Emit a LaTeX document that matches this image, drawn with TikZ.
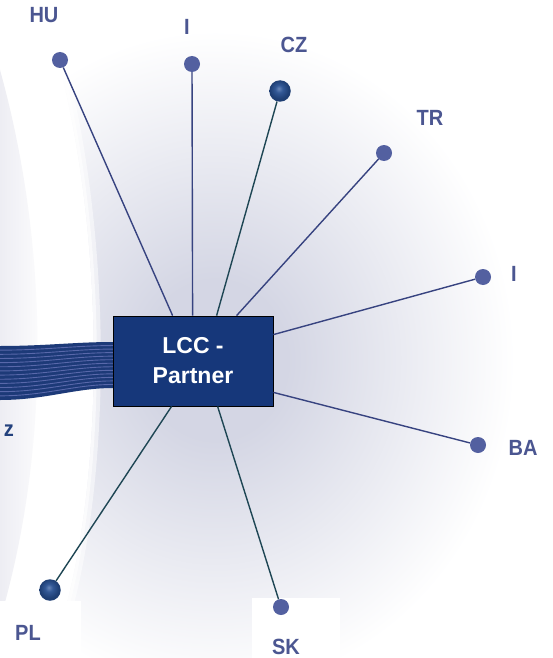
\documentclass[tikz,border=0pt]{standalone}
\usepackage{graphicx}
\usepackage{fontspec}
\setmainfont{Liberation Sans}
\usetikzlibrary{calc}
\definecolor{lblc}{RGB}{75,86,145}
\definecolor{dotc}{RGB}{83,96,160}
\definecolor{linec}{RGB}{55,67,128}
\definecolor{tealc}{RGB}{30,70,84}
\definecolor{boxc}{RGB}{22,55,122}
\definecolor{glowc}{RGB}{212,214,228}
\definecolor{bandc}{RGB}{29,58,120}
\definecolor{stripec}{RGB}{88,104,170}
\definecolor{sphhl}{RGB}{105,135,185}
\definecolor{sphmid}{RGB}{50,88,150}
\definecolor{sphdk}{RGB}{30,62,115}
\definecolor{zc}{RGB}{35,65,125}
\definecolor{leftg}{RGB}{237,237,243}
\pgfdeclareradialshading{bgglow}{\pgfpoint{0bp}{0bp}}{color(0bp)=(glowc); color(6bp)=(glowc); color(25bp)=(white); color(50bp)=(white)}
\pgfdeclareradialshading{sphball}{\pgfpoint{-3bp}{6bp}}{color(0bp)=(sphhl); color(9bp)=(sphmid); color(22bp)=(sphdk); color(50bp)=(sphdk)}
\newcommand\lbltext[1]{\scalebox{1}[1.1]{#1}}
\tikzset{
  lbl/.style={text=lblc, font=\fontsize{20}{20}\selectfont\bfseries, inner sep=0pt},
  dot/.style={circle, fill=dotc, inner sep=0pt, minimum size=16pt},
  sphere/.style={circle, shade, shading=sphball, inner sep=0pt, minimum size=21.5pt},
  conn/.style={draw=linec, line width=1.4pt},
  tconn/.style={draw=tealc, line width=1.4pt},
  box/.style={draw=black, line width=0.8pt, fill=boxc, minimum width=160pt, minimum height=90pt, inner sep=0pt, text=white, font=\fontsize{23}{30}\selectfont\bfseries, align=center}
}
\begin{document}
\begin{tikzpicture}[x=1pt,y=-1pt]
\useasboundingbox (0,0) rectangle (553,658);
\fill[white] (0,0) rectangle (553,658);
% background
\shade[left color=leftg, right color=white] (0,70) .. controls (50,250) and (50,450) .. (0,620) -- cycle;
\begin{scope}
  \clip (40,0) .. controls (110,200) and (110,500) .. (50,658) -- (553,658) -- (553,0) -- cycle;
  \shade[shading=bgglow] (215,360) ellipse [x radius=300, y radius=330];
  \draw[white, line width=14pt, opacity=0.5] (40,0) .. controls (110,200) and (110,500) .. (50,658);
  \draw[white, line width=6pt, opacity=0.6] (40,0) .. controls (110,200) and (110,500) .. (50,658);
\end{scope}
\fill[white] (0,601) rectangle (81,658);
\fill[white] (252,598) rectangle (340,658);
% band of lines
\fill[bandc] (0,346) .. controls (45,346) and (75,342) .. (113,342) -- (113,388) .. controls (75,388) and (45,400) .. (0,400) -- cycle;
\foreach \i in {1,...,12} {
  \pgfmathsetmacro\ya{346+\i*54/13}
  \pgfmathsetmacro\yb{342+\i*46/13}
  \draw[stripec, line width=0.9pt] (0,\ya) .. controls (45,\ya) and (75,\yb) .. (113,\yb);
}
% box
\node[box] (box) at (193,361) {LCC -\\Partner};
\coordinate (eHU) at ([xshift=60pt]box.north west);
\coordinate (eI) at ([xshift=80pt]box.north west);
\coordinate (eCZ) at ([xshift=104pt]box.north west);
\coordinate (eTR) at ([xshift=124pt]box.north west);
\coordinate (eIR) at ([yshift=-19pt]box.north east);
\coordinate (eBA) at ([yshift=14pt]box.south east);
\coordinate (eSK) at ([xshift=105pt]box.south west);
\coordinate (ePL) at ([xshift=59pt]box.south west);
% dots
\node[dot] (hu) at (60,60) {};
\node[dot] (i1) at (192,64) {};
\node[sphere] (cz) at (280,91) {};
\node[dot] (tr) at (384,153) {};
\node[dot] (i2) at (483,277) {};
\node[dot] (ba) at (478,445) {};
\node[dot] (sk) at (281,607) {};
\node[sphere] (pl) at (50,590) {};
% connectors
\draw[conn] (hu) -- (eHU);
\draw[conn] (i1) -- (eI);
\draw[tconn] (cz) -- (eCZ);
\draw[conn] (tr) -- (eTR);
\draw[conn] (i2) -- (eIR);
\draw[conn] (ba) -- (eBA);
\draw[tconn] (sk) -- (eSK);
\draw[tconn] (pl) -- (ePL);
% labels
\node[lbl] (lhu) at (44,15) {\lbltext{HU}};
\node[lbl] (li1) at (187,27) {\lbltext{I}};
\node[lbl] (lcz) at (294,45) {\lbltext{CZ}};
\node[lbl] (ltr) at (430,118) {\lbltext{TR}};
\node[lbl] (li2) at (514,274) {\lbltext{I}};
\node[lbl] (lba) at (523,448) {\lbltext{BA}};
\node[lbl] (lsk) at (286,647) {\lbltext{SK}};
\node[lbl] (lpl) at (28,633) {\lbltext{PL}};
\node[lbl, text=zc] (lz) at (9,431) {\lbltext{z}};
\end{tikzpicture}
\end{document}
